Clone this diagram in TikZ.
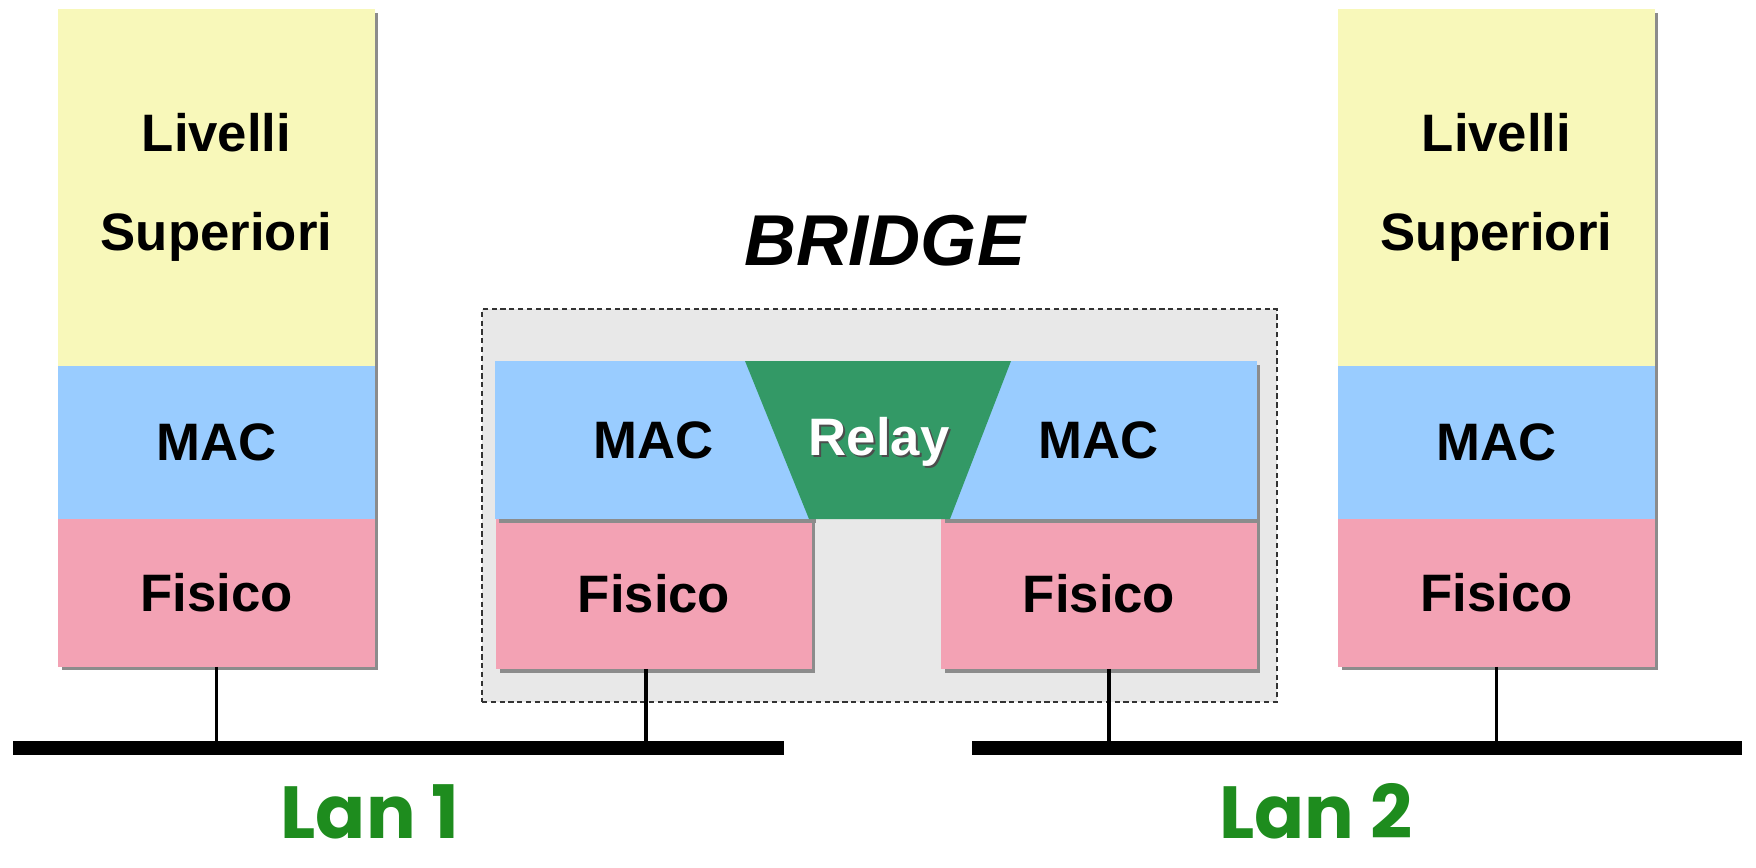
\documentclass[tikz,border=0pt]{standalone}
\usepackage{fontspec}
\setmainfont{Liberation Sans}
\newfontfamily\lanfont{Poppins}
\usetikzlibrary{positioning,shadows}
\definecolor{supyellow}{HTML}{F8F8BA}
\definecolor{macblue}{HTML}{99CCFF}
\definecolor{fispink}{HTML}{F3A2B4}
\definecolor{relaygreen}{HTML}{339966}
\definecolor{bridgegray}{HTML}{E8E8E8}
\definecolor{langreen}{HTML}{1E8C1E}
\tikzset{
  layer/.style={rectangle,inner sep=0pt,outer sep=0pt,align=center,
    font=\fontsize{30}{56}\selectfont\bfseries,
    general shadow={fill=black!45,shadow xshift=2pt,shadow yshift=-2pt}},
  sup/.style={layer,fill=supyellow,minimum width=6.34cm,minimum height=7.14cm},
  mac/.style={layer,fill=macblue,minimum width=6.34cm,minimum height=3.06cm},
  fis/.style={layer,fill=fispink,minimum width=6.34cm,minimum height=2.96cm},
  drop/.style={line width=0.075cm},
  bus/.style={line width=0.28cm},
  lan/.style={anchor=base,inner sep=0pt,text depth=0pt,text=langreen,
    font=\lanfont\fontsize{42}{48}\selectfont\bfseries}
}

\begin{document}
\begin{tikzpicture}[x=0.02cm,y=-0.02cm]
    \useasboundingbox (0,0) rectangle (1756,867);
    % stazione Lan 1
    \node[sup] (sup1) at (216.5,187.5) {Livelli\\Superiori};
    \node[mac,below=0pt of sup1] (mac1) {MAC};
    \node[fis,below=0pt of mac1] (fis1) {Fisico};
    % stazione Lan 2
    \node[sup] (sup2) at (1496.5,187.5) {Livelli\\Superiori};
    \node[mac,below=0pt of sup2] (mac2) {MAC};
    \node[fis,below=0pt of mac2] (fis2) {Fisico};
    % bridge
    \node[draw=black!80,dash pattern=on 3pt off 2pt,line width=0.7pt,fill=bridgegray,
        minimum width=15.9cm,minimum height=7.86cm] (bridge) at (879.5,505.5) {};
    \node[font=\fontsize{41}{48}\selectfont\bfseries\itshape] (bridgelabel) at (885,241) {BRIDGE};
    \node[fis,minimum width=6.32cm,minimum height=3cm] (bfisl) at (654,594) {Fisico};
    \node[fis,minimum width=6.32cm,minimum height=3cm] (bfisr) at (1099,594) {Fisico};
    \node[mac,minimum width=6.36cm,minimum height=3.16cm,above=0pt of bfisl] (bmacl) {MAC};
    \node[mac,minimum width=6.32cm,minimum height=3.16cm,above=0pt of bfisr] (bmacr) {MAC};
    \fill[relaygreen] (745,361) -- (1011,361) -- (950,519) -- (809,519) -- cycle;
    \node[text=black!70,font=\fontsize{30}{36}\selectfont\bfseries] at (881,444) {Relay};
    \node[text=white,font=\fontsize{30}{36}\selectfont\bfseries] (relay) at (879,442) {Relay};
    % lan
    \coordinate (bus1w) at (13,748);
    \coordinate (bus1e) at (784,748);
    \coordinate (bus2w) at (972,748);
    \coordinate (bus2e) at (1742,748);
    \draw[bus] (bus1w) -- (bus1e);
    \draw[bus] (bus2w) -- (bus2e);
    \draw[drop] (fis1.south) -- (fis1.south |- bus1w);
    \draw[drop] ([xshift=-0.16cm]bfisl.south) -- ([xshift=-0.16cm]bfisl.south |- bus1w);
    \draw[drop] ([xshift=0.2cm]bfisr.south) -- ([xshift=0.2cm]bfisr.south |- bus2w);
    \draw[drop] (fis2.south) -- (fis2.south |- bus2w);
    \node[lan] (lan1) at (370,838) {Lan 1};
    \node[lan] (lan2) at (1316,838) {Lan 2};
\end{tikzpicture}
\end{document}
